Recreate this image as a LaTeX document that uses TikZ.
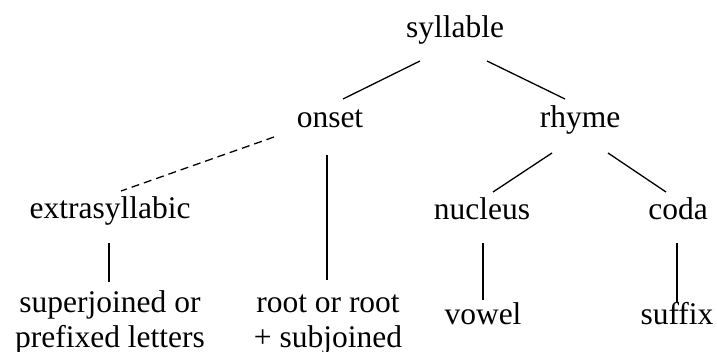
\documentclass[tikz,border=0pt]{standalone}
\usepackage{fontspec}
\setmainfont{Liberation Serif}
\begin{document}
\begin{tikzpicture}[x=1pt,y=-1pt,
  label/.style={inner sep=0pt,anchor=base,align=center,
    font=\fontsize{31.5}{35}\selectfont},
  branch/.style={line width=1.3pt},
  optional/.style={line width=1.3pt,dash pattern=on 8pt off 5pt}]
\useasboundingbox (0,0) rectangle (717,352);

% tree nodes, placed on the baseline of their last line
\node[label] (syl)  at (455,38)  {syllable};
\node[label] (ons)  at (330,128) {onset};
\node[label] (rhy)  at (580,128) {rhyme};
\node[label] (ext)  at (110,219) {extrasyllabic};
\node[label] (nuc)  at (482,220) {nucleus};
\node[label] (cod)  at (678,220) {coda};
\node[label] (sup)  at (110,347) {superjoined or\\prefixed letters};
\node[label] (roo)  at (328,347) {root or root\\+ subjoined};
\node[label] (vow)  at (483,325) {vowel};
\node[label] (suf)  at (677,325) {suffix};

% branches
\draw[branch]   ([shift={(-35,23)}]syl.base) -- ([shift={(13,-29)}]ons.base);
\draw[branch]   ([shift={(32,23)}]syl.base)  -- ([shift={(-15,-29)}]rhy.base);
\draw[optional] ([shift={(-56,9)}]ons.base)  -- ([shift={(11,-28)}]ext.base);
\draw[branch]   ([shift={(-3,27)}]ons.base)  -- ([shift={(-1,-67)}]roo.base);
\draw[branch]   ([shift={(-1,24)}]ext.base)  -- ([shift={(-1,-65)}]sup.base);
\draw[branch]   ([shift={(-28,25)}]rhy.base) -- ([shift={(11,-28)}]nuc.base);
\draw[branch]   ([shift={(28,25)}]rhy.base)  -- ([shift={(-12,-28)}]cod.base);
\draw[branch]   ([shift={(1,23)}]nuc.base)   -- ([shift={(0,-25)}]vow.base);
\draw[branch]   ([shift={(-1,23)}]cod.base)  -- ([shift={(0,-23)}]suf.base);
\end{tikzpicture}
\end{document}
